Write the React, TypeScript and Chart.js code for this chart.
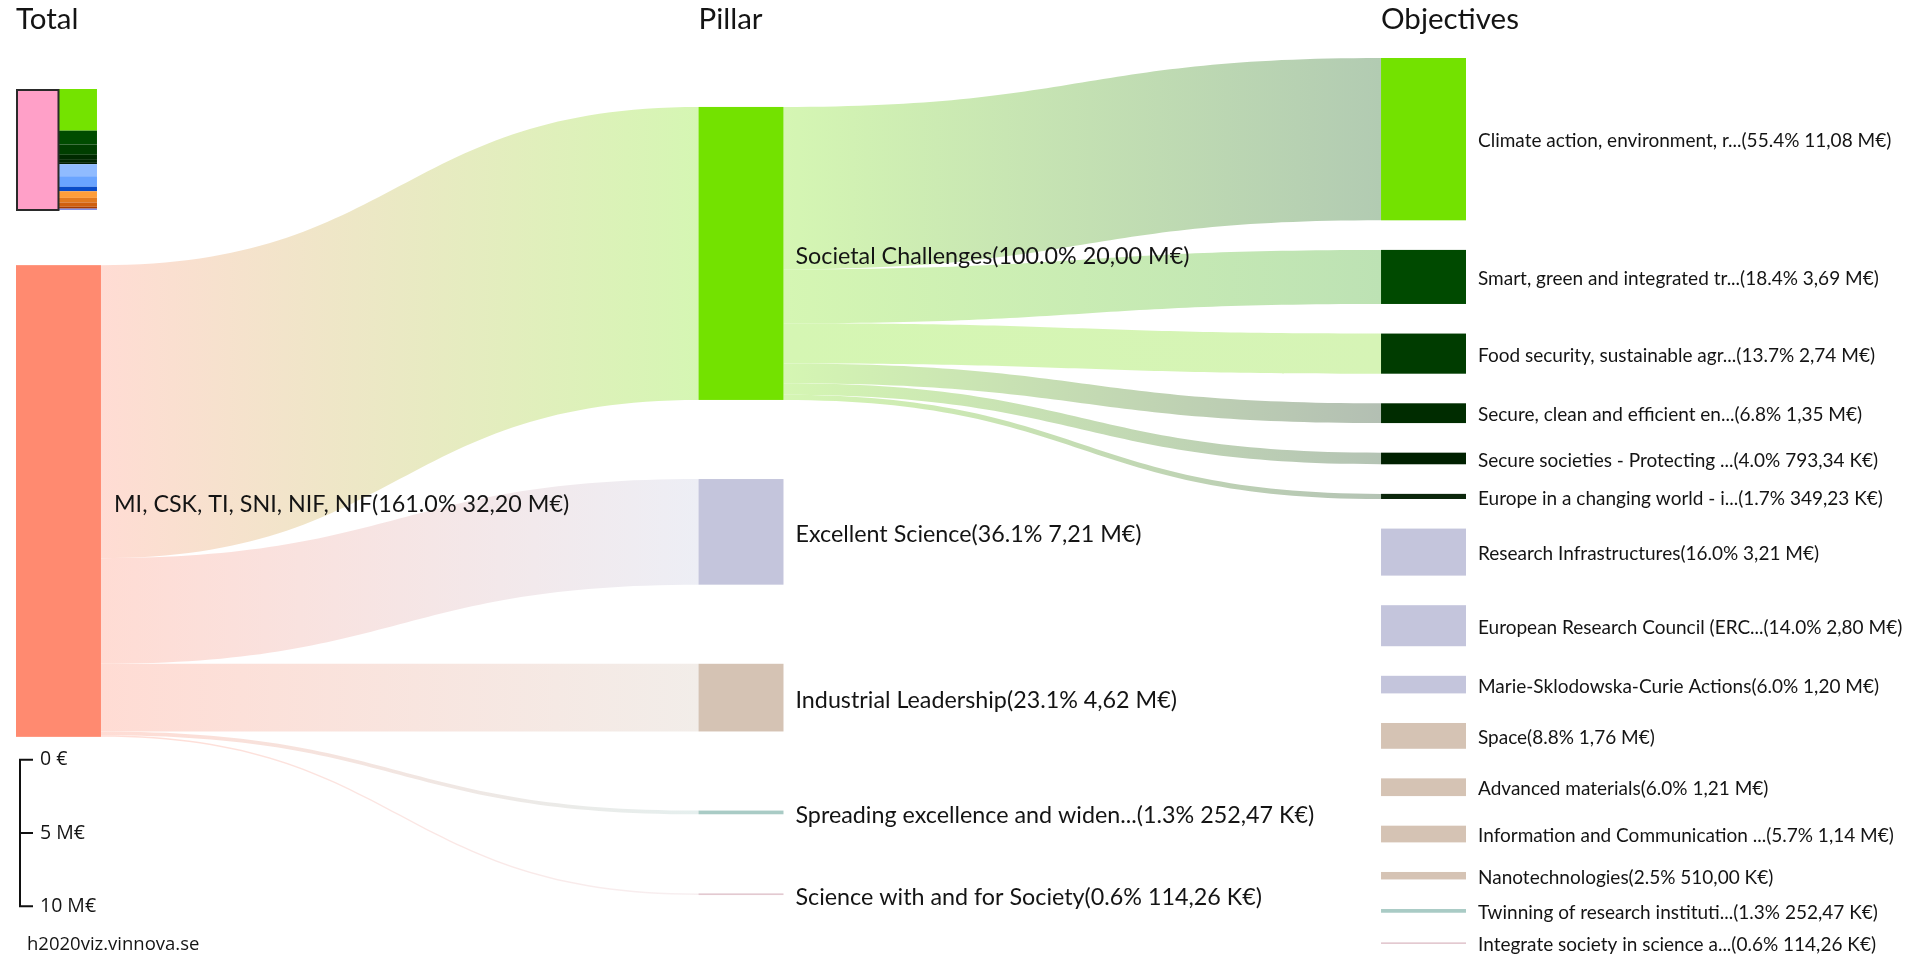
import React, { useEffect, useRef } from "react";
import { Chart, registerables } from "chart.js";

Chart.register(...registerables);

// ---------- data (M€) ----------
const COLUMN_TITLES = ["Total", "Pillar", "Objectives"];

const TOTAL_NAME = "MI, CSK, TI, SNI, NIF, NIF";
const TOTAL_VALUE = 32.2;
const TOTAL_PCT = "161.0%";
const TOTAL_AMOUNT = "32,20 M€";

const PILLAR_NAMES = [
  "Societal Challenges",
  "Excellent Science",
  "Industrial Leadership",
  "Spreading excellence and widen...",
  "Science with and for Society",
];
const PILLAR_VALUES = [20.0, 7.21, 4.62, 0.25247, 0.11426];
const PILLAR_PCT = ["100.0%", "36.1%", "23.1%", "1.3%", "0.6%"];
const PILLAR_AMOUNT = ["20,00 M€", "7,21 M€", "4,62 M€", "252,47 K€", "114,26 K€"];

const OBJ_NAMES = [
  "Climate action, environment, r...",
  "Smart, green and integrated tr...",
  "Food security, sustainable agr...",
  "Secure, clean and efficient en...",
  "Secure societies - Protecting ...",
  "Europe in a changing world - i...",
  "Research Infrastructures",
  "European Research Council (ERC...",
  "Marie-Sklodowska-Curie Actions",
  "Space",
  "Advanced materials",
  "Information and Communication ...",
  "Nanotechnologies",
  "Twinning of research instituti...",
  "Integrate society in science a...",
];
const OBJ_VALUES = [11.08, 3.69, 2.74, 1.35, 0.79334, 0.34923, 3.21, 2.8, 1.2, 1.76, 1.21, 1.14, 0.51, 0.25247, 0.11426];
const OBJ_PILLAR = [0, 0, 0, 0, 0, 0, 1, 1, 1, 2, 2, 2, 2, 3, 4];
const OBJ_PCT = ["55.4%", "18.4%", "13.7%", "6.8%", "4.0%", "1.7%", "16.0%", "14.0%", "6.0%", "8.8%", "6.0%", "5.7%", "2.5%", "1.3%", "0.6%"];
const OBJ_AMOUNT = ["11,08 M€", "3,69 M€", "2,74 M€", "1,35 M€", "793,34 K€", "349,23 K€", "3,21 M€", "2,80 M€", "1,20 M€", "1,76 M€", "1,21 M€", "1,14 M€", "510,00 K€", "252,47 K€", "114,26 K€"];
// only the Societal Challenges pillar has its flows drawn
const LINKED_PILLARS = [0];

const SCALE_TICKS = [0, 5, 10];
const SCALE_TICK_LABELS = ["0 €", "5 M€", "10 M€"];
const FOOTNOTE = "h2020viz.vinnova.se";

// ---------- styles ----------
const TOTAL_COLOR = "#ff8a70";
const PILLAR_COLORS = ["#73e200", "#c4c5dc", "#d5c3b4", "#a9cbc5", "#e3c9d0"];
const OBJ_COLORS = [
  "#73e200", "#004a00", "#003c00", "#002c00", "#002000", "#0b260b",
  "#c4c5dc", "#c4c5dc", "#c4c5dc",
  "#d5c3b4", "#d5c3b4", "#d5c3b4", "#d5c3b4",
  "#a9cbc5", "#e3c9d0",
];
const SC_LINK_END = ["#b2cbb2", "#bde2b4", "#d6f4b6", "#b3bfb3", "#b4c3b4", "#b4c3b4"];
const MINI_COLORS = [
  "#74e300", "#004c00", "#003e00", "#002a00", "#002400", "#001c00",
  "#90bbff", "#6aa4ff", "#0a4cc8",
  "#ff9e3a", "#e27a20", "#d06010", "#a83a00",
  "#6a7ef0", "#5060d0",
];
const LINK_ALPHA = 0.3;
const NODE_W = 0.1245; // node width in column units
const OBJ_GAP = 2.02; // M€-equivalent padding
const PILLAR_GAP = 5.4;

const LABEL_FONT_BIG = "23.3px Lato";
const LABEL_FONT_SMALL = "19px Lato";
const TITLE_FONT = "29.5px Lato";
const SCALE_FONT = "19.5px 'Open Sans'";
const FOOT_FONT = "18.5px 'Open Sans'";
const TEXT_COLOR = "#141414";

// opaque colour equal to `hex` at alpha `a` over white
function tint(hex: string, a: number) {
  const n = parseInt(hex.slice(1), 16);
  const m = (c: number) => Math.round(255 - (255 - c) * a);
  return `rgb(${m((n >> 16) & 255)},${m((n >> 8) & 255)},${m(n & 255)})`;
}

function sum(a: number[]) {
  return a.reduce((s, v) => s + v, 0);
}

const SPAN = sum(OBJ_VALUES) + (OBJ_VALUES.length - 1) * OBJ_GAP;

function stackColumn(values: number[], gap: number) {
  const total = sum(values) + (values.length - 1) * gap;
  let y = SPAN / 2 - total / 2;
  return values.map((v) => {
    const r = { y0: y, y1: y + v };
    y += v + gap;
    return r;
  });
}

const sankeyPlugin = {
  id: "sankeyDraw",
  afterDraw(chart: any) {
    const ctx: CanvasRenderingContext2D = chart.ctx;
    const xs = chart.scales.x;
    const ys = chart.scales.y;
    const X = (v: number) => xs.getPixelForValue(v);
    const Y = (v: number) => ys.getPixelForValue(v);

    const totalPos = stackColumn([TOTAL_VALUE], 0)[0];
    const pillarPos = stackColumn(PILLAR_VALUES, PILLAR_GAP);
    const objPos = stackColumn(OBJ_VALUES, OBJ_GAP);

    const band = (
      xa: number, ya0: number, ya1: number,
      xb: number, yb0: number, yb1: number,
      c0: string, c1: string
    ) => {
      const x0 = X(xa), x1 = X(xb), xm = (x0 + x1) / 2;
      const g = ctx.createLinearGradient(x0, 0, x1, 0);
      g.addColorStop(0, c0);
      g.addColorStop(1, c1);
      ctx.beginPath();
      ctx.moveTo(x0, Y(ya0));
      ctx.bezierCurveTo(xm, Y(ya0), xm, Y(yb0), x1, Y(yb0));
      ctx.lineTo(x1, Y(yb1));
      ctx.bezierCurveTo(xm, Y(yb1), xm, Y(ya1), x0, Y(ya1));
      ctx.closePath();
      ctx.fillStyle = g;
      ctx.fill();
    };

    ctx.save();

    // links total -> pillars
    let off = totalPos.y0;
    PILLAR_VALUES.forEach((v, i) => {
      band(NODE_W, off, off + v, 1, pillarPos[i].y0, pillarPos[i].y1,
        tint(TOTAL_COLOR, LINK_ALPHA), tint(PILLAR_COLORS[i], LINK_ALPHA));
      off += v;
    });

    // links pillars -> objectives
    LINKED_PILLARS.forEach((p) => {
      let o = pillarPos[p].y0;
      let k = 0;
      OBJ_VALUES.forEach((v, j) => {
        if (OBJ_PILLAR[j] !== p) return;
        band(1 + NODE_W, o, o + v, 2, objPos[j].y0, objPos[j].y1,
          tint(PILLAR_COLORS[p], LINK_ALPHA), SC_LINK_END[k] || tint(OBJ_COLORS[j], LINK_ALPHA));
        o += v;
        k++;
      });
    });

    // nodes
    const rect = (col: number, y0: number, y1: number, color: string) => {
      ctx.fillStyle = color;
      ctx.fillRect(X(col), Y(y0), X(col + NODE_W) - X(col), Y(y1) - Y(y0));
    };
    rect(0, totalPos.y0, totalPos.y1, TOTAL_COLOR);
    pillarPos.forEach((p, i) => rect(1, p.y0, p.y1, PILLAR_COLORS[i]));
    objPos.forEach((p, i) => rect(2, p.y0, p.y1, OBJ_COLORS[i]));

    // labels
    ctx.fillStyle = TEXT_COLOR;
    ctx.textBaseline = "middle";
    ctx.textAlign = "left";
    ctx.font = LABEL_FONT_BIG;
    ctx.fillText(`${TOTAL_NAME}(${TOTAL_PCT} ${TOTAL_AMOUNT})`, X(NODE_W) + 13, Y((totalPos.y0 + totalPos.y1) / 2) + 3);
    pillarPos.forEach((p, i) => {
      ctx.fillText(`${PILLAR_NAMES[i]}(${PILLAR_PCT[i]} ${PILLAR_AMOUNT[i]})`, X(1 + NODE_W) + 12, Y((p.y0 + p.y1) / 2) + 3);
    });
    ctx.font = LABEL_FONT_SMALL;
    objPos.forEach((p, i) => {
      ctx.fillText(`${OBJ_NAMES[i]}(${OBJ_PCT[i]} ${OBJ_AMOUNT[i]})`, X(2 + NODE_W) + 12, Y((p.y0 + p.y1) / 2) + 2);
    });

    // column titles
    ctx.font = TITLE_FONT;
    ctx.textBaseline = "alphabetic";
    COLUMN_TITLES.forEach((t, c) => ctx.fillText(t, X(c), 29));

    // mini overview (top-left)
    const mx0 = X(0), mx1 = X(NODE_W) - 4, mmid = (X(0) + X(NODE_W)) / 2;
    const mTop = 89, mH = 121;
    const tot = sum(OBJ_VALUES);
    let my = mTop;
    OBJ_VALUES.forEach((v, i) => {
      const h = (v / tot) * mH;
      ctx.fillStyle = MINI_COLORS[i];
      ctx.fillRect(mmid, my, mx1 - mmid, h);
      my += h;
    });
    ctx.fillStyle = "#ffa0c8";
    ctx.fillRect(mx0, mTop, mmid - mx0, mH);
    ctx.strokeStyle = "#2a2a2a";
    ctx.lineWidth = 2;
    ctx.strokeRect(mx0 + 1, mTop + 1, mmid - mx0 - 1, mH - 1);

    // scale bar
    const sTop = Y(totalPos.y1) + 23;
    const pxPer = Y(1) - Y(0);
    const sx = 20;
    const last = SCALE_TICKS[SCALE_TICKS.length - 1];
    ctx.strokeStyle = "#111";
    ctx.lineWidth = 2;
    ctx.beginPath();
    ctx.moveTo(sx, sTop);
    ctx.lineTo(sx, sTop + pxPer * last);
    SCALE_TICKS.forEach((t) => {
      ctx.moveTo(sx - 1, sTop + pxPer * t);
      ctx.lineTo(sx + 13, sTop + pxPer * t);
    });
    ctx.stroke();
    ctx.fillStyle = TEXT_COLOR;
    ctx.font = SCALE_FONT;
    ctx.textBaseline = "middle";
    SCALE_TICKS.forEach((t, i) => ctx.fillText(SCALE_TICK_LABELS[i], sx + 20, sTop + pxPer * t));

    ctx.font = FOOT_FONT;
    ctx.fillText(FOOTNOTE, 27, 945);
    ctx.restore();
  },
};

export default function App() {
  const ref = useRef<HTMLCanvasElement>(null);
  useEffect(() => {
    document.body.style.margin = "0";
    const chart = new Chart(ref.current as HTMLCanvasElement, {
      type: "scatter",
      data: { datasets: [] },
      options: {
        animation: false,
        responsive: false,
        devicePixelRatio: 1,
        layout: { padding: { left: 16, right: 440, top: 58, bottom: 12 } },
        scales: {
          x: { type: "linear", min: 0, max: 2 + NODE_W, display: false },
          y: { type: "linear", min: 0, max: SPAN, reverse: true, display: false },
        },
        plugins: { legend: { display: false }, tooltip: { enabled: false } },
      },
      plugins: [sankeyPlugin],
    } as any);
    return () => chart.destroy();
  }, []);
  return (
    <div style={{ width: 1906, height: 956, overflow: "hidden", background: "#fff" }}>
      <canvas ref={ref} width={1906} height={956} style={{ display: "block" }} />
    </div>
  );
}
